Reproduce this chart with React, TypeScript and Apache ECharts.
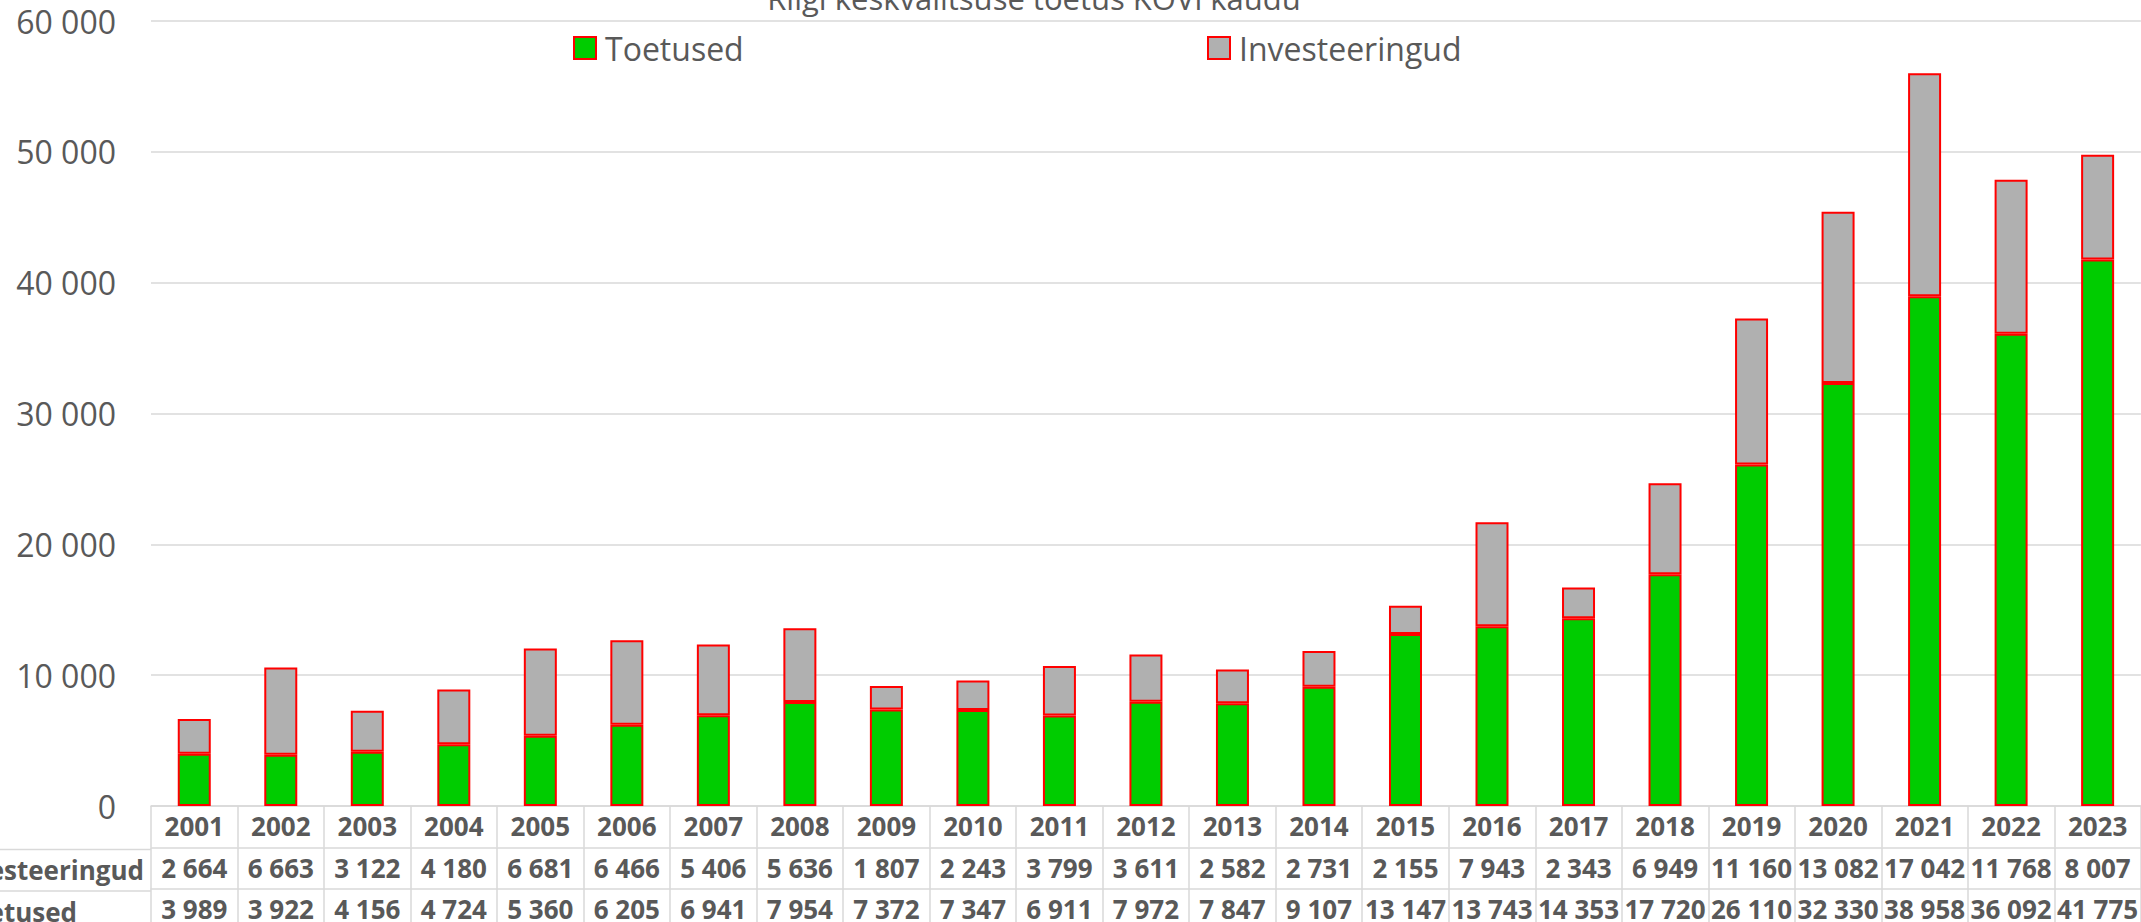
import React, { useEffect, useRef } from "react";
import * as echarts from "echarts";

const chartTitle = "Riigi keskvalitsuse toetus KOVi kaudu";
const seriesNames = ["Toetused", "Investeeringud"];
const years = [
  "2001", "2002", "2003", "2004", "2005", "2006", "2007", "2008", "2009", "2010", "2011", "2012",
  "2013", "2014", "2015", "2016", "2017", "2018", "2019", "2020", "2021", "2022", "2023",
];
const investeeringud = [
  2664, 6663, 3122, 4180, 6681, 6466, 5406, 5636, 1807, 2243, 3799, 3611,
  2582, 2731, 2155, 7943, 2343, 6949, 11160, 13082, 17042, 11768, 8007,
];
const toetused = [
  3989, 3922, 4156, 4724, 5360, 6205, 6941, 7954, 7372, 7347, 6911, 7972,
  7847, 9107, 13147, 13743, 14353, 17720, 26110, 32330, 38958, 36092, 41775,
];
const yMin = 0;
const yMax = 60000;
const yInterval = 10000;

const FONT = '"Open Sans", "Noto Sans", sans-serif';
const TEXT = "#595959";
const GRIDC = "#D9D9D9";

const fmt = (n: number) => String(n).replace(/\B(?=(\d{3})+(?!\d))/g, " ");

const PLOT_LEFT = 151;
const PLOT_TOP = 21;
const PLOT_W = 1997.4;
const PLOT_H = 787;
const ROW_H = 41.5;
const TABLE_FS = 26;

function tableAxis(offset: number, values: number[] | null) {
  return {
    type: "category",
    gridIndex: 0,
    position: "bottom",
    offset,
    data: years,
    boundaryGap: true,
    axisLine: { show: true, lineStyle: { color: GRIDC, width: 1.5 } },
    axisTick: { show: true, interval: 0, length: ROW_H, lineStyle: { color: GRIDC, width: 1.5 } },
    axisLabel: {
      show: true,
      interval: 0,
      margin: 7,
      fontFamily: FONT,
      fontWeight: "bold",
      fontSize: TABLE_FS,
      color: TEXT,
      formatter: (v: string, i: number) => (values ? fmt(values[i]) : v),
    },
    splitLine: { show: false },
  };
}

export default function App() {
  const ref = useRef<HTMLDivElement>(null);
  useEffect(() => {
    if (!ref.current) return;
    const chart = echarts.init(ref.current, undefined, { renderer: "svg" });
    const barItem = (color: string) => ({ color, borderColor: "#FF0000", borderWidth: 2 });
    const legendBase = {
      orient: "horizontal",
      top: 32,
      padding: 0,
      itemWidth: 22,
      itemHeight: 22,
      icon: "rect",
      textStyle: { fontFamily: FONT, fontSize: 32, color: TEXT, padding: [0, 0, 0, 4] },
    };
    chart.setOption({
      animation: false,
      backgroundColor: "#FFFFFF",
      grid: { left: PLOT_LEFT, top: PLOT_TOP, width: PLOT_W, height: PLOT_H, containLabel: false },
      legend: [
        { ...legendBase, left: 573, data: [seriesNames[0]] },
        { ...legendBase, left: 1207, data: [seriesNames[1]] },
      ],
      xAxis: [
        tableAxis(0, null),
        tableAxis(ROW_H, investeeringud),
        tableAxis(ROW_H * 2, toetused),
      ],
      yAxis: {
        type: "value",
        min: yMin,
        max: yMax,
        interval: yInterval,
        axisLine: { show: false },
        axisTick: { show: false },
        axisLabel: {
          margin: 35,
          fontFamily: FONT,
          fontSize: 32,
          color: TEXT,
          formatter: (v: number) => fmt(v),
        },
        splitLine: { show: true, lineStyle: { color: GRIDC, width: 1.5 } },
      },
      series: [
        {
          name: seriesNames[0],
          type: "bar",
          stack: "total",
          xAxisIndex: 0,
          barWidth: 33,
          data: toetused,
          itemStyle: barItem("#00CC00"),
        },
        {
          name: seriesNames[1],
          type: "bar",
          stack: "total",
          xAxisIndex: 0,
          barWidth: 33,
          data: investeeringud,
          itemStyle: barItem("#B0B0B0"),
        },
      ],
      graphic: [
        {
          type: "text",
          x: 1034,
          y: -2,
          silent: true,
          style: {
            text: chartTitle,
            fill: TEXT,
            fontFamily: FONT,
            fontSize: 31,
            align: "center",
            verticalAlign: "middle",
          },
        },
        {
          type: "line",
          silent: true,
          shape: { x1: 0, y1: PLOT_TOP + PLOT_H + ROW_H, x2: PLOT_LEFT, y2: PLOT_TOP + PLOT_H + ROW_H },
          style: { stroke: GRIDC, lineWidth: 1.5 },
        },
        {
          type: "line",
          silent: true,
          shape: { x1: 0, y1: PLOT_TOP + PLOT_H + ROW_H * 2, x2: PLOT_LEFT, y2: PLOT_TOP + PLOT_H + ROW_H * 2 },
          style: { stroke: GRIDC, lineWidth: 1.5 },
        },
        {
          type: "text",
          x: 144,
          y: PLOT_TOP + PLOT_H + ROW_H * 1.5,
          silent: true,
          style: {
            text: seriesNames[1],
            fill: TEXT,
            fontFamily: FONT,
            fontWeight: "bold",
            fontSize: TABLE_FS,
            align: "right",
            verticalAlign: "middle",
          },
        },
        {
          type: "text",
          x: 77,
          y: PLOT_TOP + PLOT_H + ROW_H * 2.5,
          silent: true,
          style: {
            text: seriesNames[0],
            fill: TEXT,
            fontFamily: FONT,
            fontWeight: "bold",
            fontSize: TABLE_FS,
            align: "right",
            verticalAlign: "middle",
          },
        },
      ],
    });
    return () => chart.dispose();
  }, []);
  return (
    <div
      ref={ref}
      style={{ position: "fixed", left: 0, top: 0, width: 2141, height: 922, background: "#fff" }}
    />
  );
}
